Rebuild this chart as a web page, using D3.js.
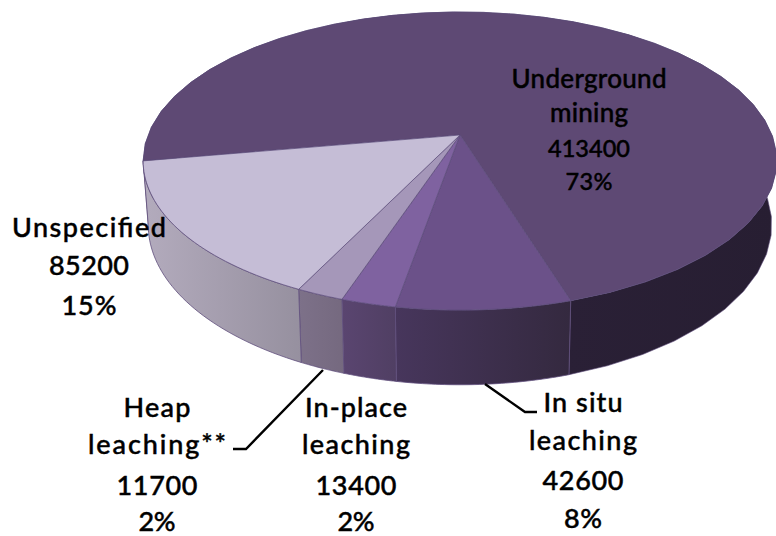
<!DOCTYPE html>
<html><head><meta charset="utf-8">
<script src="https://cdn.jsdelivr.net/npm/d3@7"></script>
<style>html,body{margin:0;padding:0;background:#fff}svg{display:block}
text{font-family:Lato,"Open Sans",sans-serif;font-size:27px;font-weight:500;fill:#000;stroke:#000;stroke-width:0.45;text-anchor:middle}</style>
</head><body><svg id="c" width="776" height="536"></svg>
<script>
const categories = ["Underground mining","In situ leaching","In-place leaching","Heap leaching**","Unspecified"];
const values = [413400,42600,13400,11700,85200];
const percents = ["73%","8%","2%","2%","15%"];
const labelLines = [["Underground","mining"],["In situ","leaching"],["In-place","leaching"],["Heap","leaching**"],["Unspecified"]];
const topColors = ["#5e4974","#6b5189","#7f62a0","#a597b9","#c5bdd6"];
const wallFrom = ["#2a2036","#47365c","#5a4570","#7d7189","#b3abbd"];
const wallTo = ["#271e32","#34293f","#503f63","#75697f","#96909f"];
// label layout: centre x, line baselines, line widths, font sizes
const labelX = [589,583,356,157,89];
const labelY = [[88,122,157,190],[412,450,490,528],[417,454,495,531],[417,454,495,531],[237,275,315]];
const labelW = [[155,78,82,47],[79,108,81,38],[102,108,81,37],[67,138,81,37],[154,80,55]];
const labelSize = [26,27,27,27,27];
const underNumberSize = 23.5;

const svg = d3.select("#c"), defs = svg.append("defs");
const deg = Math.PI/180, start = 260*deg;
const arcs = d3.pie().sort(null).value(d=>d).startAngle(start).endAngle(start+2*Math.PI)(values);

// perspective projection of a unit disc at the top and bottom of the pie
const k = -0.1745;
const xTop = d3.scaleLinear().domain([-1,1]).range([460-312,460+312]);
const yTop = d3.scaleLinear().domain([-1,1]).range([135-144.5,135+144.5]);
const xBot = d3.scaleLinear().domain([-1,1]).range([460-307,460+307]);
const yBot = d3.scaleLinear().domain([-1,1]).range([197-155,197+155]);
const proj = (xs,ys,r,t)=>{const u=r*Math.sin(t),v=-r*Math.cos(t),w=1+k*v;return [xs(u/w),ys(v/w)];};
const topPt = t=>proj(xTop,yTop,1,t), botPt = t=>proj(xBot,yBot,1,t);
const angles = (a,b)=>d3.range(0,41).map(i=>a+(b-a)*i/40);
const line = d3.line();

arcs.forEach((d,i)=>{
  const g = defs.append("linearGradient").attr("id","w"+i);
  g.append("stop").attr("offset",i===0?"0.67":"0").attr("stop-color",wallFrom[i]);
  g.append("stop").attr("offset","1").attr("stop-color",wallTo[i]);
});
// walls
arcs.forEach((d,i)=>{
  const as = angles(d.startAngle,d.endAngle);
  svg.append("path").attr("d",line(as.map(topPt).concat(as.slice().reverse().map(botPt)))+"Z")
    .attr("fill",`url(#w${i})`).attr("stroke","#5f4e7c").attr("stroke-width",i===0?0.6:0.8);
});
// top faces
arcs.forEach((d,i)=>{
  const as = angles(d.startAngle,d.endAngle);
  svg.append("path").attr("d",line([proj(xTop,yTop,0,0)].concat(as.map(topPt)))+"Z")
    .attr("fill",topColors[i]).attr("stroke","#5a4a78").attr("stroke-width",0.7);
});
// leaders
const leaders = [[[233,449],[246,449],[323,370]],[[537,412],[525,412],[485,384]]];
leaders.forEach(l=>svg.append("path").attr("d",line(l)).attr("fill","none").attr("stroke","#000").attr("stroke-width",2.4));
// labels
const fmt = d3.format("d");
categories.forEach((c,i)=>{
  const n = labelLines[i].length;
  labelLines[i].concat([fmt(values[i]),percents[i]]).forEach((s,j)=>{
    svg.append("text").attr("x",labelX[i]).attr("y",labelY[i][j])
      .style("font-size",(i===0&&j>=n?underNumberSize:labelSize[i])+"px")
      .attr("textLength",labelW[i][j]).attr("lengthAdjust","spacing").text(s);
  });
});
</script></body></html>
